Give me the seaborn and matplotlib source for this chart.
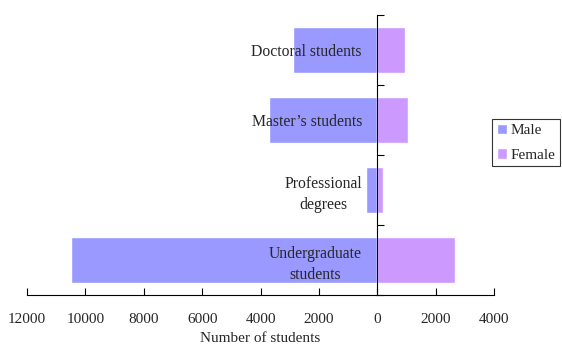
import matplotlib
matplotlib.use("Agg")
import matplotlib.pyplot as plt
import matplotlib.ticker as mticker
from matplotlib.patches import Patch
import seaborn as sns
import pandas as pd

categories = ["Doctoral students", "Master\u2019s students", "Professional\ndegrees", "Undergraduate\nstudents"]
male = [2900, 3700, 400, 10500]
female = [950, 1050, 200, 2650]
x_ticks = [-12000, -10000, -8000, -6000, -4000, -2000, 0, 2000, 4000]

male_color = "#9999FF"
female_color = "#CC99FF"

sns.set_theme(style="white")
plt.rcParams["font.family"] = ["Liberation Serif", "DejaVu Serif"]

df_m = pd.DataFrame({"category": categories, "value": [-v for v in male]})
df_f = pd.DataFrame({"category": categories, "value": female})

fig = plt.figure(figsize=(5.62, 3.47), dpi=100)
ax = fig.add_axes([27 / 562, 52 / 347, 467 / 562, 280 / 347])

sns.barplot(data=df_m, x="value", y="category", orient="h", color=male_color,
            saturation=1, width=0.67, ax=ax, order=categories)
sns.barplot(data=df_f, x="value", y="category", orient="h", color=female_color,
            saturation=1, width=0.67, ax=ax, order=categories)
ax.set_axisbelow(False)

ax.set_xlim(-12000, 4000)
ax.set_ylim(3.5, -0.5)

# horizontal axis: ticks pointing up, absolute values as labels
ax.set_xticks(x_ticks)
ax.xaxis.set_major_formatter(mticker.FuncFormatter(lambda v, p: f"{abs(int(v))}"))
ax.tick_params(axis="x", direction="in", length=5, width=0.8, color="black",
               labelsize=11, pad=13, bottom=True)
ax.set_xlabel("Number of students", fontsize=11, labelpad=4)
ax.set_ylabel("")

# vertical axis sits at zero, ticks between the categories
ax.spines["left"].set_position(("data", 0))
ax.spines["top"].set_visible(False)
ax.spines["right"].set_visible(False)
for s in ("left", "bottom"):
    ax.spines[s].set_color("black")
    ax.spines[s].set_linewidth(0.8)
ax.set_yticks([0, 1, 2, 3])
ax.set_yticklabels(categories, fontsize=11.3, multialignment="center", linespacing=1.45)
ax.set_yticks([-0.5, 0.5, 1.5, 2.5, 3.5], minor=True)
ax.tick_params(axis="y", which="major", length=0, pad=11)
ax.tick_params(axis="y", which="minor", direction="in", length=5, width=0.8,
               color="black", left=True)

handles = [Patch(facecolor=male_color, label="Male"),
           Patch(facecolor=female_color, label="Female")]
leg = fig.legend(handles=handles, loc="upper left", bbox_to_anchor=(492 / 562, 1 - 119 / 347),
                 frameon=True, fancybox=False, edgecolor="black", fontsize=11,
                 handlelength=0.7, handleheight=0.7, handletextpad=0.2,
                 borderpad=0.3, labelspacing=0.7, borderaxespad=0)
leg.get_frame().set_linewidth(0.8)

fig.savefig("out.png", dpi=100)
